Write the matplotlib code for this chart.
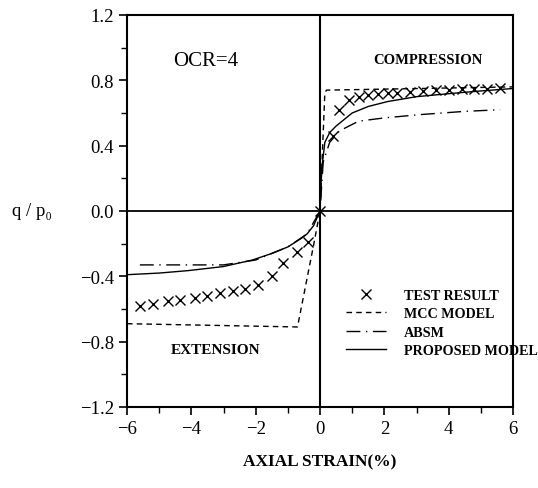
import matplotlib
matplotlib.use("Agg")
import matplotlib.pyplot as plt
from matplotlib.ticker import MultipleLocator

plt.rcParams['font.family'] = ['Liberation Serif', 'DejaVu Serif']

# Test results
test_comp_x = [0.0, 0.4, 0.6, 0.9, 1.2, 1.5, 1.8, 2.1, 2.4, 2.8, 3.2, 3.6, 4.0, 4.4, 4.8, 5.2, 5.6]
test_comp_y = [0.0, 0.46, 0.62, 0.68, 0.70, 0.71, 0.715, 0.72, 0.725, 0.73, 0.735, 0.74, 0.74, 0.745, 0.75, 0.75, 0.755]
test_ext_x = [-5.59, -5.18, -4.71, -4.35, -3.88, -3.52, -3.11, -2.69, -2.33, -1.92, -1.50, -1.14, -0.72, -0.36]
test_ext_y = [-0.58, -0.57, -0.55, -0.545, -0.53, -0.52, -0.505, -0.49, -0.475, -0.455, -0.40, -0.32, -0.25, -0.19]

# MCC model
mcc_x = [-6.0, -0.7, -0.2, 0.0, 0.15, 0.2, 6.0]
mcc_y = [-0.69, -0.71, -0.21, 0.0, 0.72, 0.74, 0.76]

# ABSM
absm_x = [-5.6, -3.0, -2.0, -1.0, -0.4, 0.0, 0.1, 0.3, 0.6, 1.2, 2.0, 3.1, 4.5, 5.6]
absm_y = [-0.33, -0.33, -0.30, -0.22, -0.14, 0.0, 0.3, 0.42, 0.49, 0.55, 0.57, 0.59, 0.61, 0.62]

# Proposed model
prop_x = [-6.0, -5.0, -4.1, -3.0, -2.1, -1.5, -1.0, -0.6, -0.4, -0.2, 0.0, 0.05, 0.15, 0.3, 0.5, 1.0, 1.5, 2.1, 3.0, 4.1, 5.0, 6.0]
prop_y = [-0.39, -0.38, -0.365, -0.34, -0.30, -0.26, -0.22, -0.17, -0.14, -0.09, 0.0, 0.25, 0.42, 0.48, 0.52, 0.60, 0.64, 0.67, 0.70, 0.72, 0.735, 0.75]

fig = plt.figure(figsize=(5.38, 4.89), dpi=100)
ax = fig.add_axes([127/538, 1-408/489, (513-127)/538, (408-16)/489])

ax.plot(prop_x, prop_y, color='black', lw=1.0, label='PROPOSED MODEL')
ax.plot(mcc_x, mcc_y, color='black', lw=1.0, ls=(0, (4, 3)), label='MCC MODEL')
ax.plot(absm_x, absm_y, color='black', lw=1.0, ls=(0, (10, 4, 1, 4)), label='ABSM')
ax.plot(test_comp_x + test_ext_x, test_comp_y + test_ext_y, ls='none', marker='x',
        ms=7, mew=1.0, color='black', label='TEST RESULT')

ax.axhline(0, color='black', lw=1.3)
ax.axvline(0, color='black', lw=1.5)

ax.set_xlim(-6, 6)
ax.set_ylim(-1.2, 1.2)
ax.xaxis.set_minor_locator(MultipleLocator(1))
ax.yaxis.set_minor_locator(MultipleLocator(0.2))
ax.set_xticks([-6, -4, -2, 0, 2, 4, 6])
ax.set_xticklabels(['\u22126', '\u22124', '\u22122', '0', '2', '4', '6'])
ax.set_yticks([-1.2, -0.8, -0.4, 0.0, 0.4, 0.8, 1.2])
ax.set_yticklabels(['\u22121.2', '\u22120.8', '\u22120.4', '0.0', '0.4', '0.8', '1.2'])
ax.tick_params(which='major', direction='out', length=6, width=1.2, labelsize=13.5)
ax.tick_params(which='minor', direction='out', length=4, width=1.0)
for s in ax.spines.values():
    s.set_linewidth(1.5)

ax.text(-3.55, 0.92, 'OCR=4', fontsize=15, ha='center', va='center')
ax.text(3.35, 0.93, 'COMPRESSION', fontsize=10.5, fontweight='bold', ha='center', va='center')
ax.text(-3.25, -0.845, 'EXTENSION', fontsize=11, fontweight='bold', ha='center', va='center')

fig.text(32/538, 1-212/489, 'q / p\u2080', fontsize=13.5, ha='center', va='center')
fig.text(320/538, 1-462/489, 'AXIAL STRAIN(%)', fontsize=12.5, fontweight='bold', ha='center', va='center')

handles, labels = ax.get_legend_handles_labels()
order = [3, 1, 2, 0]
leg = fig.legend([handles[i] for i in order], [labels[i] for i in order],
                 loc='upper left', bbox_to_anchor=(346/538, 1-290/489), frameon=False,
                 prop={'weight': 'bold', 'size': 10.2}, handlelength=2.8,
                 labelspacing=0.38, handletextpad=1.3, borderpad=0, borderaxespad=0)

fig.savefig('out.png', dpi=100)
